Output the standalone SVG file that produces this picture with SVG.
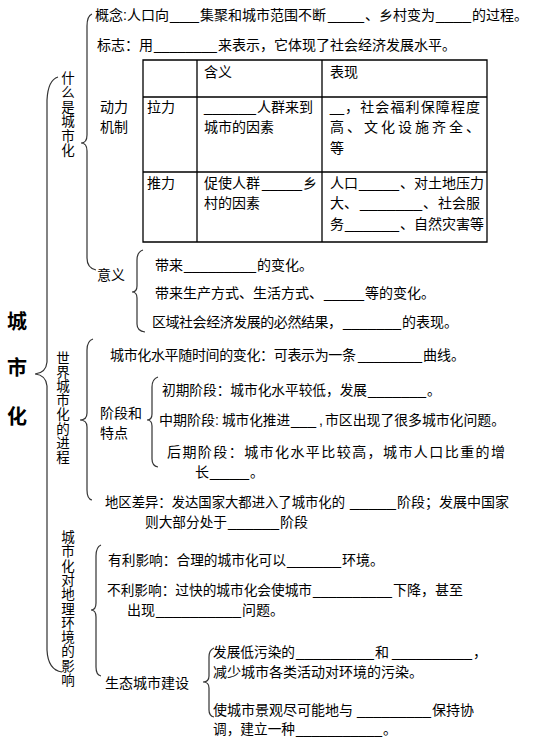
<svg xmlns="http://www.w3.org/2000/svg" width="536" height="750" viewBox="0 0 536 750">
<style>
text{font-family:"Liberation Sans","Noto Sans CJK SC",sans-serif;font-size:14px;fill:#000}
.v{font-size:13.5px;text-anchor:middle}
.big{font-size:20px;font-weight:bold;text-anchor:middle}
.b{font-family:"Liberation Sans",sans-serif}
.brace{fill:none;stroke:#333;stroke-width:1.2}
.tbl{fill:none;stroke:#000;stroke-width:1.3}
</style>
<rect width="536" height="750" fill="#fff"/>
<g id="connectors">
<path class="brace" d="M58,77 Q48,80 47,100 L47,362 Q46,373 35,374 Q46,375 47,386 L47,650 Q48,670 62,672"/>
<path class="brace" d="M92,14 Q87,16 87,26 L87,135 Q87,143 81,143 Q87,143 87,151 L87,258 Q87,268 96,270"/>
<path class="brace" d="M143,250 Q137,252 137,260 L137,286 Q137,292 132,292 Q137,292 137,298 L137,324 Q137,331 145,332"/>
<path class="brace" d="M93,339 Q87,341 87,350 L87,413 Q87,420 80,420 Q87,420 87,427 L87,490 Q87,499 92,500"/>
<path class="brace" d="M158,377 Q152,379 152,387 L152,414 Q152,420 147,420 Q152,420 152,426 L152,459 Q152,466 158,467"/>
<path class="brace" d="M101,545 Q96,547 96,556 L96,603 Q96,610 91,610 Q96,610 96,617 L96,667 Q96,675 101,676"/>
<path class="brace" d="M214,648 Q209,650 209,657 L209,676 Q209,682 203,682 Q209,682 209,688 L209,710 Q209,716 214,717"/>
</g>
<g id="root">
<text class="big" x="17" y="329">城</text>
<text class="big" x="17" y="375">市</text>
<text class="big" x="17" y="424">化</text>
</g>
<g id="what">
<text class="v" x="68" y="83">什<tspan x="68" dy="14.4">么</tspan><tspan x="68" dy="14.4">是</tspan><tspan x="68" dy="14.4">城</tspan><tspan x="68" dy="14.4">市</tspan><tspan x="68" dy="14.4">化</tspan></text>
</g>
<g id="concept">
<text x="95" y="20">概念:人口向<tspan class="b" x="170" textLength="29" lengthAdjust="spacingAndGlyphs">___</tspan><tspan x="200">集聚和城市范围不断</tspan><tspan class="b" x="328" textLength="36" lengthAdjust="spacingAndGlyphs">____</tspan><tspan x="365">、乡村变为</tspan><tspan class="b" x="436" textLength="35" lengthAdjust="spacingAndGlyphs">____</tspan><tspan x="472">的过程。</tspan></text>
</g>
<g id="sign">
<text x="97" y="50">标志：用<tspan class="b" x="154" textLength="63" lengthAdjust="spacingAndGlyphs">________</tspan><tspan x="218">来表示，它体现了社会经济发展水平。</tspan></text>
</g>
<g id="mechanism">
<text x="100" y="112">动力</text>
<text x="100" y="132">机制</text>
<path class="tbl" d="M143,60 H487 V242 H143 Z M197,60 V242 M322,60 V242 M143,97 H487 M143,172 H487"/>
<text x="204" y="77">含义</text>
<text x="330" y="77">表现</text>
<text x="147" y="112">拉力</text>
<text x="204" y="112"><tspan class="b" textLength="52" lengthAdjust="spacingAndGlyphs">______</tspan><tspan x="257">人群来到</tspan></text>
<text x="204" y="132">城市的因素</text>
<text x="330" y="112"><tspan class="b" textLength="14" lengthAdjust="spacingAndGlyphs">_</tspan><tspan x="345" textLength="135" lengthAdjust="spacing">，社会福利保障程度</tspan></text>
<text x="330" y="132" textLength="150" lengthAdjust="spacing">高、文化设施齐全、</text>
<text x="330" y="153">等</text>
<text x="147" y="188">推力</text>
<text x="204" y="188">促使人群<tspan class="b" x="262" textLength="40" lengthAdjust="spacingAndGlyphs">_____</tspan><tspan x="303">乡</tspan></text>
<text x="204" y="208">村的因素</text>
<text x="330" y="188">人口<tspan class="b" x="359" textLength="40" lengthAdjust="spacingAndGlyphs">_____</tspan><tspan x="400">、对土地压力</tspan></text>
<text x="330" y="208">大、<tspan class="b" x="360" textLength="62" lengthAdjust="spacingAndGlyphs">_______</tspan><tspan x="423">、</tspan><tspan x="438">社会服</tspan></text>
<text x="330" y="229">务<tspan class="b" x="345" textLength="54" lengthAdjust="spacingAndGlyphs">______</tspan><tspan x="400">、自然灾害等</tspan></text>
</g>
<g id="meaning">
<text x="97" y="280">意义</text>
<text x="155" y="270">带来<tspan class="b" x="184" textLength="72" lengthAdjust="spacingAndGlyphs">_________</tspan><tspan x="257">的变化。</tspan></text>
<text x="155" y="298">带来生产方式、生活方式、<tspan class="b" x="324" textLength="40" lengthAdjust="spacingAndGlyphs">_____</tspan><tspan x="365">等的变化。</tspan></text>
<text x="152" y="327"><tspan textLength="190" lengthAdjust="spacing">区域社会经济发展的必然结果，</tspan><tspan class="b" x="343" textLength="58" lengthAdjust="spacingAndGlyphs">_______</tspan><tspan x="402">的表现。</tspan></text>
</g>
<g id="process">
<text class="v" x="63" y="363">世<tspan x="63" dy="14.1">界</tspan><tspan x="63" dy="14.1">城</tspan><tspan x="63" dy="14.1">市</tspan><tspan x="63" dy="14.1">化</tspan><tspan x="63" dy="14.1">的</tspan><tspan x="63" dy="14.1">进</tspan><tspan x="63" dy="14.1">程</tspan></text>
</g>
<g id="curve">
<text x="110" y="360"><tspan textLength="246" lengthAdjust="spacing">城市化水平随时间的变化：可表示为一条</tspan><tspan class="b" x="358" textLength="64" lengthAdjust="spacingAndGlyphs">________</tspan><tspan x="423">曲线。</tspan></text>
</g>
<g id="stages">
<text x="100" y="418" textLength="42" lengthAdjust="spacing">阶段和</text>
<text x="100" y="438">特点</text>
<text x="162" y="395"><tspan textLength="205" lengthAdjust="spacingAndGlyphs">初期阶段：城市化水平较低，发展</tspan><tspan class="b" x="368" textLength="58" lengthAdjust="spacingAndGlyphs">_______</tspan><tspan x="427">。</tspan></text>
<text x="159" y="425">中期阶段<tspan x="215">:</tspan><tspan x="222" textLength="68" lengthAdjust="spacingAndGlyphs">城市化推进</tspan><tspan class="b" x="291" textLength="25" lengthAdjust="spacingAndGlyphs">___</tspan><tspan x="319">,</tspan><tspan x="325" textLength="180" lengthAdjust="spacingAndGlyphs">市区出现了很多城市化问题。</tspan></text>
<text x="167" y="457" textLength="338" lengthAdjust="spacing">后期阶段：城市化水平比较高，城市人口比重的增</text>
<text x="195" y="477">长<tspan class="b" x="210" textLength="39" lengthAdjust="spacingAndGlyphs">____</tspan><tspan x="250">。</tspan></text>
</g>
<g id="region">
<text x="105" y="507"><tspan textLength="240" lengthAdjust="spacingAndGlyphs">地区差异：发达国家大都进入了城市化的</tspan><tspan class="b" x="350" textLength="46" lengthAdjust="spacingAndGlyphs">_____</tspan><tspan x="397">阶段；发展中国家</tspan></text>
<text x="145" y="527"><tspan textLength="82" lengthAdjust="spacingAndGlyphs">则大部分处于</tspan><tspan class="b" x="228" textLength="51" lengthAdjust="spacingAndGlyphs">______</tspan><tspan x="280">阶段</tspan></text>
</g>
<g id="impact">
<text class="v" x="68" y="542">城<tspan x="68" dy="14.3">市</tspan><tspan x="68" dy="14.3">化</tspan><tspan x="68" dy="14.3">对</tspan><tspan x="68" dy="14.3">地</tspan><tspan x="68" dy="14.3">理</tspan><tspan x="68" dy="14.3">环</tspan><tspan x="68" dy="14.3">境</tspan><tspan x="68" dy="14.3">的</tspan><tspan x="68" dy="14.3">影</tspan><tspan x="68" dy="14.3">响</tspan></text>
</g>
<g id="good">
<text x="108" y="565"><tspan textLength="178" lengthAdjust="spacingAndGlyphs">有利影响：合理的城市化可以</tspan><tspan class="b" x="287" textLength="54" lengthAdjust="spacingAndGlyphs">______</tspan><tspan x="342">环境。</tspan></text>
</g>
<g id="bad">
<text x="107" y="595"><tspan textLength="205" lengthAdjust="spacingAndGlyphs">不利影响：过快的城市化会使城市</tspan><tspan class="b" x="313" textLength="79" lengthAdjust="spacingAndGlyphs">__________</tspan><tspan x="393">下降，甚至</tspan></text>
<text x="127" y="615">出现<tspan class="b" x="156" textLength="85" lengthAdjust="spacingAndGlyphs">__________</tspan><tspan x="242">问题。</tspan></text>
</g>
<g id="eco">
<text x="105" y="688">生态城市建设</text>
<text x="213" y="657"><tspan textLength="82" lengthAdjust="spacingAndGlyphs">发展低污染的</tspan><tspan class="b" x="296" textLength="78" lengthAdjust="spacingAndGlyphs">_________</tspan><tspan x="375">和</tspan><tspan class="b" x="392" textLength="80" lengthAdjust="spacingAndGlyphs">__________</tspan><tspan x="473">，</tspan></text>
<text x="213" y="677">减少城市各类活动对环境的污染。</text>
<text x="213" y="715">使城市景观尽可能地与<tspan class="b" x="357" textLength="74" lengthAdjust="spacingAndGlyphs">_________</tspan><tspan x="432">保持协</tspan></text>
<text x="213" y="734"><tspan textLength="82" lengthAdjust="spacingAndGlyphs">调，建立一种</tspan><tspan class="b" x="296" textLength="86" lengthAdjust="spacingAndGlyphs">___________</tspan><tspan x="383">。</tspan></text>
</g>
</svg>
